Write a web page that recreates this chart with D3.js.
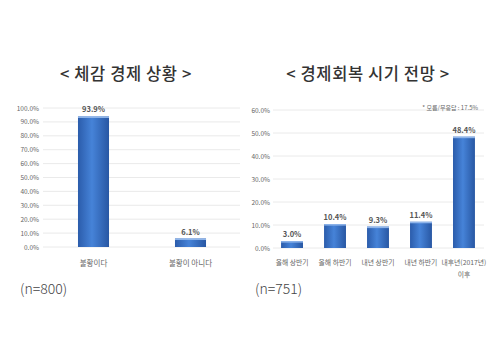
<!DOCTYPE html>
<html><head><meta charset="utf-8">
<script src="https://cdn.jsdelivr.net/npm/d3@7"></script>
<style>body{margin:0;background:#fff}svg{display:block}</style>
</head><body>
<svg id="c" width="500" height="360"></svg>
<script>
const leftTitle = "< 체감 경제 상황 >";
const leftCats = ["불황이다", "불황이 아니다"];
const leftVals = [93.9, 6.1];
const leftTicks = [0,10,20,30,40,50,60,70,80,90,100];
const leftN = "(n=800)";

const rightTitle = "< 경제회복 시기 전망 >";
const rightCats = [["올해 상반기"], ["올해 하반기"], ["내년 상반기"], ["내년 하반기"], ["내후년(2017년)", "이후"]];
const rightVals = [3.0, 10.4, 9.3, 11.4, 48.4];
const rightTicks = [0,10,20,30,40,50,60];
const rightN = "(n=751)";
const rightNote = "* 모름/무응답 : 17.5%";

const svg = d3.select("#c");
const font = "'Noto Sans CJK KR', 'Noto Sans', sans-serif";
const defs = svg.append("defs");
const g = defs.append("linearGradient").attr("id","bar").attr("x1","0").attr("x2","1").attr("y1","0").attr("y2","0");
g.append("stop").attr("offset","0%").attr("stop-color","#2b5cab");
g.append("stop").attr("offset","45%").attr("stop-color","#4683d8");
g.append("stop").attr("offset","100%").attr("stop-color","#2857a3");

function chart(o){
  const gg = svg.append("g");
  const y = d3.scaleLinear().domain([0, o.max]).range([o.y0, o.y1]);
  const x = d3.scaleBand().domain(o.cats.map((d,i)=>i)).range([o.x0, o.x1]).paddingInner(o.pad).paddingOuter(o.padOuter);
  gg.append("g").selectAll("line").data(o.ticks).join("line")
    .attr("x1", o.gx0).attr("x2", o.gx1)
    .attr("y1", d=>y(d)).attr("y2", d=>y(d))
    .attr("stroke","#e4e4e4").attr("stroke-width",0.8);
  const ax = d3.axisLeft(y).tickValues(o.ticks).tickSize(0).tickPadding(0).tickFormat(d=>d3.format(".1f")(d)+"%");
  const a = gg.append("g").attr("transform",`translate(${o.ax},0)`).call(ax);
  a.select(".domain").remove();
  a.selectAll("text").attr("font-family",font).attr("font-size",6.5).attr("fill","#666");
  gg.selectAll("rect.b").data(o.vals).join("rect").attr("class","b")
    .attr("x",(d,i)=>x(i)).attr("width",x.bandwidth())
    .attr("y",d=>y(d)).attr("height",d=>y(0)-y(d))
    .attr("fill","url(#bar)");
  gg.selectAll("rect.t").data(o.vals).join("rect").attr("class","t")
    .attr("x",(d,i)=>x(i)).attr("width",x.bandwidth())
    .attr("y",d=>y(d)).attr("height",1.5)
    .attr("fill","#8fb5ea");
  gg.selectAll("text.v").data(o.vals).join("text").attr("class","v")
    .attr("x",(d,i)=>x(i)+x.bandwidth()/2).attr("y",d=>y(d)-4)
    .attr("text-anchor","middle").attr("font-family",font).attr("font-size",7.5).attr("font-weight","bold").attr("fill","#555")
    .text(d=>d3.format(".1f")(d)+"%");
  const cl = gg.selectAll("text.c").data(o.cats).join("text").attr("class","c")
    .attr("x",(d,i)=>x(i)+x.bandwidth()/2).attr("y",o.catY)
    .attr("text-anchor","middle").attr("font-family",font).attr("font-size",o.catSize).attr("fill","#666");
  cl.each(function(d){
    const arr = Array.isArray(d)?d:[d];
    d3.select(this).selectAll("tspan").data(arr).join("tspan")
      .attr("x",d3.select(this).attr("x")).attr("dy",(t,j)=>j?12:0).text(t=>t);
  });
  svg.append("text").attr("x",o.tx).attr("y",80).attr("text-anchor","middle")
    .attr("font-family",font).attr("font-size",16.5).attr("font-weight",500).attr("fill","#333")
    .attr("letter-spacing",0.6).text(o.title);
  svg.append("text").attr("x",o.nx).attr("y",294)
    .attr("font-family",font).attr("font-size",14).attr("font-weight",300).attr("fill","#444").text(o.n);
}

chart({title:leftTitle, cats:leftCats, vals:leftVals, ticks:leftTicks, max:100, n:leftN,
  y0:247, y1:108, x0:45, x1:239, pad:0.68, padOuter:0.34, gx0:43, gx1:240, ax:39, catY:266, catSize:7.5, tx:126, nx:20});
chart({title:rightTitle, cats:rightCats, vals:rightVals, ticks:rightTicks, max:60, n:rightN,
  y0:248, y1:110, x0:260, x1:496, pad:0.49, padOuter:0.49, gx0:273, gx1:484, ax:270, catY:265, catSize:6.8, tx:368, nx:255});

svg.append("text").attr("x",478).attr("y",110).attr("text-anchor","end")
  .attr("font-family",font).attr("font-size",6).attr("fill","#666").text(rightNote);
</script>
</body></html>
